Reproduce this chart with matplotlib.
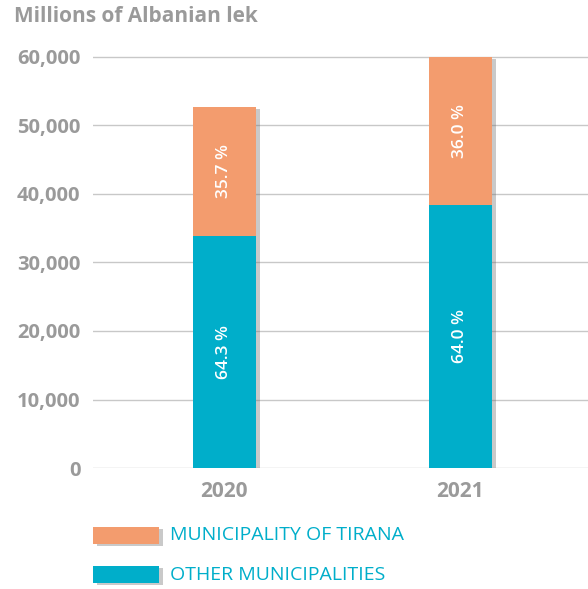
import matplotlib
matplotlib.use("Agg")
import matplotlib.pyplot as plt
import matplotlib.patheffects as pe
from matplotlib.patches import Rectangle
from matplotlib.ticker import FuncFormatter

years = ["2020", "2021"]
other = [33900, 38400]
tirana = [18800, 21600]
other_pct = ["64.3 %", "64.0 %"]
tirana_pct = ["35.7 %", "36.0 %"]
series_names = ["MUNICIPALITY OF TIRANA", "OTHER MUNICIPALITIES"]
yticks = [0, 10000, 20000, 30000, 40000, 50000, 60000]

ORANGE = "#F39C6E"
BLUE = "#00AECA"
GRAY = "#9A9A9A"
FONT = "Open Sans"

fig = plt.figure(figsize=(5.88, 5.89), dpi=100)
ax = fig.add_axes([0.158, 0.2054, 0.842, 0.7096])


def shadow():
    return [pe.SimplePatchShadow(offset=(3, -1.5), shadow_rgbFace="#666666", alpha=0.35), pe.Normal()]


x = list(range(len(years)))
b2 = ax.bar(x, tirana, width=0.267, bottom=other, color=ORANGE, zorder=3, path_effects=shadow())
b1 = ax.bar(x, other, width=0.267, color=BLUE, zorder=3.5, path_effects=shadow())

for i in x:
    ax.text(i, other[i] / 2, other_pct[i], rotation=90, ha="center", va="center",
            color="white", fontsize=12.5, fontweight="semibold", family=FONT, zorder=5)
    ax.text(i, other[i] + tirana[i] / 2, tirana_pct[i], rotation=90, ha="center", va="center",
            color="white", fontsize=12.5, fontweight="semibold", family=FONT, zorder=5)

ax.set_xlim(-0.557, 1.542)
ax.set_ylim(0, 61000)
ax.set_yticks(yticks)
ax.yaxis.set_major_formatter(FuncFormatter(lambda v, p: f"{int(v):,}"))
ax.set_xticks(x)
ax.set_xticklabels(years)
ax.grid(axis="y", color="#C8C8C8", linewidth=1, zorder=0)
ax.set_axisbelow(True)
for s in ax.spines.values():
    s.set_visible(False)
ax.tick_params(length=0)
for lab in ax.get_yticklabels():
    lab.set_family(FONT)
    lab.set_fontweight("bold")
    lab.set_fontsize(14.5)
    lab.set_color(GRAY)
for lab in ax.get_xticklabels():
    lab.set_family(FONT)
    lab.set_fontweight("bold")
    lab.set_fontsize(15)
    lab.set_color(GRAY)
ax.tick_params(axis="y", pad=9)
ax.tick_params(axis="x", pad=9)

fig.text(14 / 588, 1 - 16 / 589, "Millions of Albanian lek", ha="left", va="center",
         fontsize=15, fontweight="bold", color=GRAY, family=FONT)

# legend
W, H = 588, 589
for (y0, col, name) in [(527, ORANGE, series_names[0]), (566, BLUE, series_names[1])]:
    r = Rectangle((93 / W, 1 - (y0 + 17) / H), 66 / W, 17 / H, transform=fig.transFigure,
                  facecolor=col, edgecolor="none", path_effects=shadow())
    fig.add_artist(r)
    fig.text(170 / W, 1 - (y0 + 8.5) / H, name, ha="left", va="center", fontsize=14,
             color=BLUE, family=FONT)

fig.savefig("out.png", dpi=100)
